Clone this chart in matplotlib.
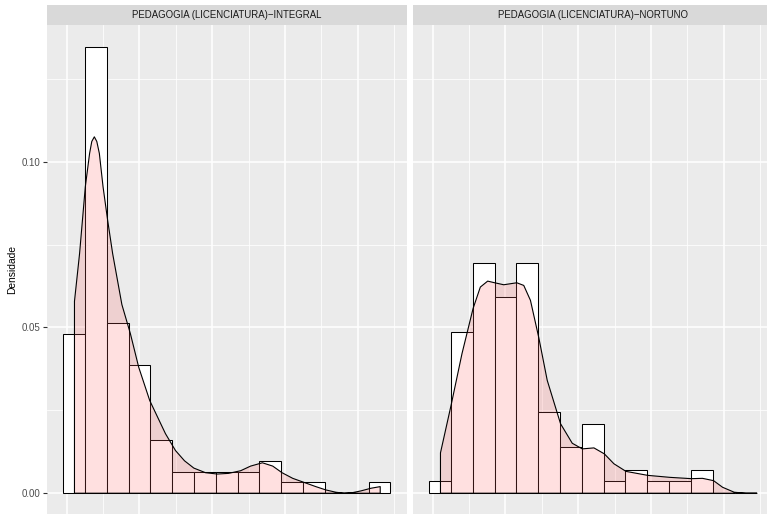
import numpy as np
import matplotlib
matplotlib.use('Agg')
import matplotlib.pyplot as plt

plt.rcParams['font.family'] = ['Liberation Sans', 'DejaVu Sans']

# facet titles
panels = ['PEDAGOGIA (LICENCIATURA)\u2212INTEGRAL', 'PEDAGOGIA (LICENCIATURA)\u2212NORTUNO']

# histogram (binwidth 3, bins centred on 21, 24, ..., 63)
binwidth = 3
centers = np.arange(21, 64, 3)
counts_integral = [15, 42, 16, 12, 5, 2, 2, 2, 2, 3, 1, 1, 0, 0, 1]
counts_noturno = [1, 14, 20, 17, 20, 7, 4, 6, 1, 2, 1, 1, 2, 0, 0]

# density curves
dens_x_integral = [21.0, 21.7, 22.49, 23.08, 23.38, 23.73, 24.07, 24.42, 24.93, 25.56, 26.25,
                   27.52, 28.69, 29.83, 31.35, 33.51, 34.89, 36.13, 37.41, 39.02, 40.64,
                   42.19, 43.85, 45.22, 46.84, 48.26, 49.54, 51.01, 52.53, 54.18, 55.56,
                   56.94, 58.08, 59.28, 60.38, 61.76, 63.04]
dens_y_integral = [0.058, 0.0724, 0.0926, 0.1027, 0.1063, 0.1077, 0.1063, 0.1027, 0.0926, 0.0825, 0.0724,
                   0.057, 0.0482, 0.0381, 0.028, 0.018, 0.0129, 0.0098, 0.0076, 0.0062, 0.0058,
                   0.006, 0.0068, 0.0082, 0.0092, 0.0082, 0.0062, 0.0045, 0.0033, 0.002, 0.001,
                   0.0003, 0.0, 0.0002, 0.0007, 0.0015, 0.002]
dens_x_noturno = [21.0, 22.45, 23.96, 25.48, 26.48, 27.49, 28.45, 29.7, 31.49, 32.45, 33.37,
                  34.52, 35.68, 37.51, 39.12, 40.5, 42.1, 43.53, 44.85, 46.51, 49.5,
                  52.53, 55.52, 57.03, 58.55, 59.79, 61.39, 63.0, 64.5]
dens_y_noturno = [0.0122, 0.0265, 0.0422, 0.0558, 0.0623, 0.0641, 0.0636, 0.063, 0.0636, 0.0628, 0.0583,
                  0.047, 0.0341, 0.021, 0.0151, 0.0134, 0.0137, 0.0119, 0.0089, 0.0066, 0.0054,
                  0.0048, 0.0044, 0.0045, 0.0038, 0.0018, 0.0003, 0.0, 0.0]

W, H = 767, 514
fig = plt.figure(figsize=(W / 100, H / 100), dpi=100)

data = [(counts_integral, dens_x_integral, dens_y_integral),
        (counts_noturno, dens_x_noturno, dens_y_noturno)]
lefts = [46.7, 412.7]
pw = 360.0
top, bottom = 25.0, 515.0

ymax_bar = max(max(c) / (sum(c) * binwidth) for c, _, _ in data)
ylo, yhi = -0.05 * ymax_bar, 1.05 * ymax_bar

for i, (counts, dx, dy) in enumerate(data):
    x0 = lefts[i]
    ax = fig.add_axes([x0 / W, (H - bottom) / H, pw / W, (bottom - top) / H])
    ax.set_facecolor('#EBEBEB')
    for s in ax.spines.values():
        s.set_visible(False)

    dens = np.array(counts) / (sum(counts) * binwidth)
    ax.bar(centers, dens, width=binwidth, facecolor='white', edgecolor='black',
           linewidth=0.75, zorder=2)
    ax.fill_between(dx, dy, 0, facecolor=(1.0, 0.4, 0.4, 0.2), edgecolor='black',
                    linewidth=0.8, zorder=3)

    ax.set_xlim(17.25, 66.75)
    ax.set_ylim(ylo, yhi)
    ax.set_xticks([20, 30, 40, 50, 60])
    ax.set_xticks([25, 35, 45, 55, 65], minor=True)
    ax.set_yticks([0.0, 0.05, 0.10])
    ax.set_yticks([0.025, 0.075, 0.125], minor=True)
    ax.grid(which='major', color='white', linewidth=1.1, zorder=0)
    ax.grid(which='minor', color='white', linewidth=0.55, zorder=0)
    ax.set_axisbelow(True)
    ax.tick_params(axis='x', which='both', length=0, labelbottom=False)
    ax.tick_params(axis='y', which='minor', length=0)
    if i == 0:
        ax.set_yticklabels(['0.00', '0.05', '0.10'])
        ax.tick_params(axis='y', which='major', length=3, width=0.8, color='#333333',
                       labelsize=7, labelcolor='#4D4D4D', pad=1.5)
        ax.set_ylabel('Densidade', fontsize=7.4, color='black', labelpad=3)
    else:
        ax.tick_params(axis='y', which='major', length=0, labelleft=False)

    sax = fig.add_axes([x0 / W, (H - top) / H, pw / W, 20.0 / H])
    sax.set_facecolor('#D9D9D9')
    sax.set_xticks([])
    sax.set_yticks([])
    for s in sax.spines.values():
        s.set_visible(False)
    sax.text(0.5, 0.5, panels[i], transform=sax.transAxes, ha='center', va='center',
             fontsize=6.9, color='#1A1A1A')

fig.savefig('out.png', dpi=100)
